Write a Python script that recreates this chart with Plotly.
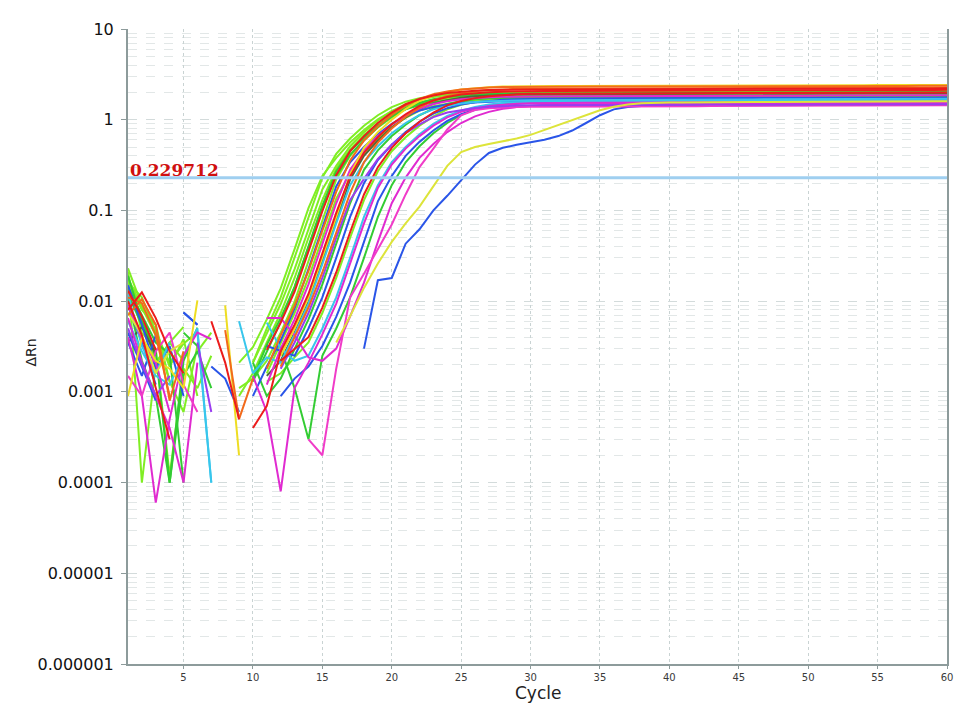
import math
import plotly.graph_objects as go

cycles = list(range(1, 61))
threshold = 0.229712
x_tick_vals = [5, 10, 15, 20, 25, 30, 35, 40, 45, 50, 55, 60]
y_tick_vals = [1e-6, 1e-5, 1e-4, 1e-3, 1e-2, 1e-1, 1, 10]
y_tick_text = ["0.000001", "0.00001", "0.0001", "0.001", "0.01", "0.1", "1", "10"]

well_01 = [0.018, 0.0085, 0.0042, 0.0013, None, 0.0028, 0.0045, None, None, 0.0021,
           0.005, 0.011, 0.03, 0.085, 0.23, 0.42, 0.62, 0.86, 1.12, 1.38,
           1.58, 1.73, 1.84, 1.91, 1.95, 1.98, 2.0, 2.01, 2.01, 2.02,
           2.02, 2.03, 2.03, 2.03, 2.04, 2.04, 2.04, 2.05, 2.05, 2.05,
           2.05, 2.06, 2.06, 2.06, 2.06, 2.07, 2.07, 2.07, 2.07, 2.08,
           2.08, 2.08, 2.08, 2.08, 2.09, 2.09, 2.09, 2.09, 2.1, 2.1]
well_02 = [0.021, 0.0001, 0.002, 0.0035, 0.0022, None, None, None, 0.0009, 0.0016,
           0.0035, 0.0074, 0.018, 0.05, 0.13, 0.29, 0.47, 0.68, 0.91, 1.15,
           1.37, 1.54, 1.65, 1.73, 1.79, 1.82, 1.84, 1.85, 1.85, 1.85,
           1.85, 1.86, 1.86, 1.86, 1.87, 1.87, 1.87, 1.87, 1.88, 1.88,
           1.88, 1.88, 1.89, 1.89, 1.89, 1.89, 1.89, 1.9, 1.9, 1.9,
           1.9, 1.9, 1.91, 1.91, 1.91, 1.91, 1.91, 1.92, 1.92, 1.92]
well_03 = [0.012, 0.0055, 0.0025, None, 0.0045, 0.0032, None, 0.0009, None, 0.0013,
           0.0028, 0.0059, 0.0144, 0.04, 0.112, 0.27, 0.45, 0.64, 0.86, 1.09,
           1.3, 1.45, 1.56, 1.64, 1.69, 1.72, 1.74, 1.75, 1.75, 1.76,
           1.76, 1.76, 1.77, 1.77, 1.77, 1.77, 1.78, 1.78, 1.78, 1.78,
           1.78, 1.79, 1.79, 1.79, 1.79, 1.79, 1.8, 1.8, 1.8, 1.8,
           1.8, 1.8, 1.81, 1.81, 1.81, 1.81, 1.81, 1.81, 1.82, 1.82]
well_04 = [0.013, 0.0068, 0.0029, None, 0.0011, None, 0.006, 0.0021, 0.0005, None,
           0.0029, 0.0058, 0.0127, 0.0345, 0.098, 0.246, 0.45, 0.66, 0.92, 1.2,
           1.48, 1.69, 1.85, 1.97, 2.04, 2.09, 2.12, 2.14, 2.14, 2.15,
           2.15, 2.16, 2.16, 2.16, 2.17, 2.17, 2.17, 2.17, 2.18, 2.18,
           2.18, 2.18, 2.19, 2.19, 2.19, 2.19, 2.19, 2.2, 2.2, 2.2,
           2.2, 2.2, 2.2, 2.21, 2.21, 2.21, 2.21, 2.21, 2.21, 2.22]
well_05 = [0.016, 0.011, 0.0045, 0.0021, 0.0034, 0.0046, None, None, 0.0011, 0.0014,
           0.0022, 0.0045, 0.0099, 0.027, 0.077, 0.22, 0.4, 0.59, 0.82, 1.06,
           1.31, 1.5, 1.64, 1.75, 1.81, 1.85, 1.88, 1.9, 1.9, 1.91,
           1.91, 1.91, 1.92, 1.92, 1.92, 1.93, 1.93, 1.93, 1.93, 1.94,
           1.94, 1.94, 1.94, 1.95, 1.95, 1.95, 1.95, 1.95, 1.96, 1.96,
           1.96, 1.96, 1.96, 1.97, 1.97, 1.97, 1.97, 1.97, 1.98, 1.98]
well_06 = [0.009, 0.0035, 0.0012, None, 0.0075, 0.0055, None, None, None, 0.0009,
           0.0019, 0.0037, 0.0083, 0.0225, 0.064, 0.184, 0.34, 0.5, 0.69, 0.9,
           1.1, 1.26, 1.38, 1.47, 1.53, 1.56, 1.58, 1.6, 1.6, 1.61,
           1.61, 1.61, 1.62, 1.62, 1.62, 1.62, 1.63, 1.63, 1.63, 1.63,
           1.63, 1.64, 1.64, 1.64, 1.64, 1.64, 1.65, 1.65, 1.65, 1.65,
           1.65, 1.65, 1.66, 1.66, 1.66, 1.66, 1.66, 1.66, 1.67, 1.67]
well_07 = [0.011, 0.0095, 0.0042, 0.0009, None, None, None, None, None, None,
           0.0018, 0.0042, 0.0089, 0.0216, 0.06, 0.16, 0.356, 0.59, 0.84, 1.13,
           1.43, 1.7, 1.91, 2.05, 2.15, 2.22, 2.27, 2.29, 2.3, 2.3,
           2.31, 2.31, 2.31, 2.32, 2.32, 2.32, 2.32, 2.33, 2.33, 2.33,
           2.33, 2.34, 2.34, 2.34, 2.34, 2.34, 2.35, 2.35, 2.35, 2.35,
           2.35, 2.36, 2.36, 2.36, 2.36, 2.36, 2.36, 2.37, 2.37, 2.37]
well_08 = [0.004, 0.0009, 0.00006, 0.0005, 0.0025, 0.0045, 0.0038, None, None, None,
           0.0012, 0.003, 0.0063, 0.0153, 0.0425, 0.12, 0.28, 0.46, 0.66, 0.88,
           1.12, 1.33, 1.49, 1.6, 1.68, 1.74, 1.77, 1.79, 1.8, 1.8,
           1.8, 1.81, 1.81, 1.81, 1.81, 1.82, 1.82, 1.82, 1.82, 1.82,
           1.83, 1.83, 1.83, 1.83, 1.83, 1.84, 1.84, 1.84, 1.84, 1.84,
           1.85, 1.85, 1.85, 1.85, 1.85, 1.85, 1.86, 1.86, 1.86, 1.86]
well_09 = [0.02, 0.0045, 0.003, 0.00012, 0.0018, 0.0011, 0.0025, None, None, None,
           0.0016, 0.0035, 0.0074, 0.018, 0.05, 0.135, 0.26, 0.43, 0.62, 0.83,
           1.05, 1.26, 1.41, 1.51, 1.59, 1.64, 1.67, 1.69, 1.7, 1.7,
           1.7, 1.71, 1.71, 1.71, 1.71, 1.72, 1.72, 1.72, 1.72, 1.72,
           1.73, 1.73, 1.73, 1.73, 1.73, 1.74, 1.74, 1.74, 1.74, 1.74,
           1.74, 1.75, 1.75, 1.75, 1.75, 1.75, 1.75, 1.76, 1.76, 1.76]
well_10 = [0.008, 0.0125, 0.0065, 0.0028, 0.0016, None, None, None, None, 0.0004,
           0.0007, 0.0028, 0.0055, 0.012, 0.033, 0.094, 0.237, 0.43, 0.64, 0.89,
           1.15, 1.42, 1.63, 1.78, 1.9, 1.97, 2.01, 2.04, 2.06, 2.06,
           2.07, 2.07, 2.08, 2.08, 2.08, 2.09, 2.09, 2.09, 2.09, 2.1,
           2.1, 2.1, 2.1, 2.11, 2.11, 2.11, 2.11, 2.11, 2.12, 2.12,
           2.12, 2.12, 2.12, 2.13, 2.13, 2.13, 2.13, 2.13, 2.13, 2.14]
well_11 = [0.006, 0.0028, 0.0015, 0.0012, 0.0025, 0.005, 0.0001, None, 0.006, 0.0016,
           0.0024, 0.0021, 0.0043, 0.0094, 0.0255, 0.072, 0.19, 0.34, 0.51, 0.71,
           0.92, 1.13, 1.3, 1.42, 1.51, 1.57, 1.6, 1.62, 1.63, 1.64,
           1.64, 1.64, 1.65, 1.65, 1.65, 1.65, 1.66, 1.66, 1.66, 1.66,
           1.66, 1.67, 1.67, 1.67, 1.67, 1.67, 1.68, 1.68, 1.68, 1.68,
           1.68, 1.68, 1.69, 1.69, 1.69, 1.69, 1.69, 1.69, 1.7, 1.7]
well_12 = [0.0009, 0.004, 0.0022, 0.0018, 0.0011, 0.0102, None, 0.009, 0.0002, None,
           None, 0.0025, 0.005, 0.011, 0.03, 0.085, 0.25, 0.49, 0.73, 1.0,
           1.31, 1.61, 1.85, 2.02, 2.15, 2.23, 2.28, 2.32, 2.34, 2.35,
           2.35, 2.36, 2.36, 2.36, 2.37, 2.37, 2.37, 2.37, 2.38, 2.38,
           2.38, 2.38, 2.38, 2.39, 2.39, 2.39, 2.39, 2.39, 2.4, 2.4,
           2.4, 2.4, 2.4, 2.4, 2.41, 2.41, 2.41, 2.41, 2.41, 2.41]
well_13 = [0.005, 0.002, 0.0009, 0.0015, None, 0.0035, 0.0006, None, None, None,
           None, 0.0018, 0.0035, 0.0074, 0.018, 0.05, 0.13, 0.223, 0.37, 0.53,
           0.71, 0.89, 1.07, 1.2, 1.28, 1.35, 1.39, 1.42, 1.43, 1.44,
           1.44, 1.44, 1.44, 1.45, 1.45, 1.45, 1.45, 1.45, 1.46, 1.46,
           1.46, 1.47, 1.48, 1.47, 1.46, 1.46, 1.46, 1.46, 1.47, 1.47,
           1.47, 1.47, 1.47, 1.47, 1.47, 1.48, 1.48, 1.48, 1.48, 1.48]
well_14 = [0.007, 0.0105, 0.0055, 0.0008, 0.0028, None, None, 0.0048, 0.0005, 0.0014,
           None, 0.0019, 0.004, 0.0085, 0.0207, 0.0575, 0.155, 0.34, 0.56, 0.8,
           1.08, 1.36, 1.63, 1.83, 1.96, 2.06, 2.12, 2.17, 2.19, 2.2,
           2.2, 2.21, 2.21, 2.21, 2.22, 2.22, 2.22, 2.22, 2.23, 2.23,
           2.23, 2.23, 2.24, 2.24, 2.24, 2.24, 2.24, 2.25, 2.25, 2.25,
           2.25, 2.25, 2.26, 2.26, 2.26, 2.26, 2.26, 2.26, 2.27, 2.27]
well_15 = [0.014, 0.007, 0.0035, 0.0026, 0.0001, None, None, None, None, 0.0021,
           0.0009, 0.0014, 0.003, 0.0063, 0.0153, 0.0425, 0.12, 0.28, 0.46, 0.66,
           0.88, 1.12, 1.33, 1.49, 1.6, 1.68, 1.74, 1.77, 1.79, 1.8,
           1.8, 1.8, 1.81, 1.81, 1.81, 1.81, 1.82, 1.82, 1.82, 1.82,
           1.82, 1.83, 1.83, 1.83, 1.83, 1.83, 1.83, 1.84, 1.84, 1.84,
           1.84, 1.84, 1.84, 1.85, 1.85, 1.85, 1.85, 1.85, 1.85, 1.86]
well_16 = [0.015, 0.0055, 0.0018, 0.0032, 0.0009, None, 0.0019, 0.0014, 0.0006, None,
           0.0032, 0.0028, 0.0025, 0.005, 0.011, 0.03, 0.085, 0.2, 0.36, 0.53,
           0.73, 0.95, 1.17, 1.34, 1.47, 1.56, 1.62, 1.66, 1.68, 1.7,
           1.7, 1.7, 1.71, 1.71, 1.71, 1.71, 1.72, 1.72, 1.72, 1.72,
           1.72, 1.72, 1.73, 1.73, 1.73, 1.73, 1.73, 1.74, 1.74, 1.74,
           1.74, 1.74, 1.74, 1.75, 1.75, 1.75, 1.75, 1.75, 1.75, 1.76]
well_17 = [0.0065, 0.0021, 0.0009, 0.0004, 0.0001, 0.0021, None, None, None, 0.0015,
           0.0006, 0.00008, 0.0011, 0.0021, 0.0043, 0.0094, 0.0255, 0.072, 0.177, 0.32,
           0.48, 0.66, 0.86, 1.06, 1.22, 1.33, 1.42, 1.47, 1.5, 1.52,
           1.53, 1.53, 1.54, 1.54, 1.54, 1.54, 1.55, 1.55, 1.55, 1.55,
           1.55, 1.55, 1.56, 1.56, 1.56, 1.56, 1.56, 1.56, 1.57, 1.57,
           1.57, 1.57, 1.57, 1.57, 1.58, 1.58, 1.58, 1.58, 1.58, 1.58]
well_18 = [0.023, 0.009, 0.0048, 0.0019, 0.0038, 0.0009, None, None, None, None,
           0.0013, 0.0016, 0.0024, 0.0035, 0.0074, 0.018, 0.05, 0.13, 0.27, 0.45,
           0.64, 0.86, 1.09, 1.3, 1.46, 1.57, 1.65, 1.7, 1.73, 1.75,
           1.76, 1.76, 1.76, 1.77, 1.77, 1.77, 1.77, 1.78, 1.78, 1.78,
           1.78, 1.78, 1.79, 1.79, 1.79, 1.79, 1.79, 1.8, 1.8, 1.8,
           1.8, 1.8, 1.8, 1.81, 1.81, 1.81, 1.81, 1.81, 1.81, 1.82]
well_19 = [0.01, 0.0042, 0.0011, 0.0003, None, None, None, None, None, None,
           None, 0.0022, 0.003, 0.004, 0.0085, 0.0207, 0.0575, 0.15, 0.3, 0.49,
           0.71, 0.95, 1.2, 1.44, 1.61, 1.73, 1.81, 1.87, 1.91, 1.93,
           1.94, 1.94, 1.95, 1.95, 1.95, 1.95, 1.96, 1.96, 1.96, 1.96,
           1.96, 1.97, 1.97, 1.97, 1.97, 1.97, 1.97, 1.98, 1.98, 1.98,
           1.98, 1.98, 1.98, 1.99, 1.99, 1.99, 1.99, 1.99, 1.99, 2.0]
well_20 = [0.012, 0.0032, 0.0016, 0.0035, None, 0.0045, 0.0001, None, None, None,
           0.0058, 0.003, 0.0022, 0.0025, 0.005, 0.011, 0.03, 0.085, 0.19, 0.34,
           0.5, 0.69, 0.9, 1.1, 1.26, 1.38, 1.47, 1.53, 1.56, 1.58,
           1.59, 1.59, 1.6, 1.6, 1.6, 1.6, 1.61, 1.61, 1.61, 1.61,
           1.61, 1.62, 1.62, 1.62, 1.62, 1.62, 1.62, 1.63, 1.63, 1.63,
           1.63, 1.63, 1.63, 1.63, 1.64, 1.64, 1.64, 1.64, 1.64, 1.64]
well_21 = [0.0035, 0.0052, 0.0026, None, None, 0.0012, None, None, None, None,
           0.0015, 0.0022, 0.0045, 0.0099, 0.027, 0.077, 0.22, 0.4, 0.59, 0.82,
           1.06, 1.31, 1.5, 1.64, 1.75, 1.81, 1.85, 1.88, 1.9, 1.9,
           1.91, 1.91, 1.91, 1.92, 1.92, 1.92, 1.92, 1.93, 1.93, 1.93,
           1.93, 1.93, 1.94, 1.94, 1.94, 1.94, 1.94, 1.95, 1.95, 1.95,
           1.95, 1.95, 1.95, 1.96, 1.96, 1.96, 1.96, 1.96, 1.96, 1.97]
well_22 = [0.0035, 0.0015, 0.0042, None, 0.0075, 0.0055, None, None, None, None,
           None, 0.0009, 0.0014, 0.0019, 0.0032, 0.0067, 0.016, 0.045, 0.126, 0.24,
           0.4, 0.57, 0.76, 0.97, 1.15, 1.29, 1.39, 1.46, 1.51, 1.54,
           1.55, 1.56, 1.56, 1.56, 1.57, 1.57, 1.57, 1.57, 1.58, 1.58,
           1.58, 1.58, 1.58, 1.59, 1.59, 1.59, 1.59, 1.59, 1.59, 1.6,
           1.6, 1.6, 1.6, 1.6, 1.6, 1.61, 1.61, 1.61, 1.61, 1.61]
well_23 = [0.019, 0.006, 0.0028, 0.0001, 0.0022, 0.0051, None, None, None, None,
           None, 0.003, 0.0011, 0.0003, 0.0025, 0.005, 0.011, 0.03, 0.085, 0.19,
           0.34, 0.51, 0.71, 0.92, 1.13, 1.3, 1.42, 1.51, 1.57, 1.6,
           1.62, 1.63, 1.63, 1.64, 1.64, 1.64, 1.64, 1.65, 1.65, 1.65,
           1.65, 1.65, 1.66, 1.66, 1.66, 1.66, 1.66, 1.66, 1.67, 1.67,
           1.67, 1.67, 1.67, 1.67, 1.68, 1.68, 1.68, 1.68, 1.68, 1.68]
well_24 = [0.009, 0.0038, 0.0021, 0.0006, None, None, None, None, None, None,
           0.0065, 0.0065, 0.0042, 0.0024, 0.0022, 0.003, 0.0068, 0.016, 0.045, 0.12,
           0.23, 0.38, 0.54, 0.73, 0.92, 1.09, 1.22, 1.32, 1.38, 1.43,
           1.46, 1.47, 1.48, 1.48, 1.48, 1.49, 1.49, 1.49, 1.49, 1.49,
           1.5, 1.5, 1.5, 1.5, 1.5, 1.5, 1.51, 1.51, 1.51, 1.51,
           1.51, 1.51, 1.52, 1.52, 1.52, 1.52, 1.52, 1.52, 1.52, 1.53]
well_25 = [0.0015, 0.0009, 0.0028, 0.0045, 0.0012, 0.0006, None, None, None, None,
           None, None, None, 0.0003, 0.0002, 0.0018, 0.011, 0.02, 0.038, 0.07,
           0.15, 0.3, 0.48, 0.78, 1.12, 1.28, 1.34, 1.37, 1.38, 1.39,
           1.39, 1.4, 1.4, 1.4, 1.4, 1.4, 1.41, 1.41, 1.41, 1.41,
           1.41, 1.41, 1.42, 1.42, 1.42, 1.42, 1.42, 1.42, 1.42, 1.43,
           1.43, 1.43, 1.43, 1.43, 1.43, 1.43, 1.44, 1.44, 1.44, 1.44]
well_26 = [0.0075, 0.0042, 0.0016, 0.0028, 0.0035, None, None, None, None, None,
           None, None, None, None, None, 0.0035, 0.0068, 0.014, 0.026, 0.045,
           0.072, 0.11, 0.185, 0.31, 0.44, 0.5, 0.54, 0.58, 0.62, 0.68,
           0.77, 0.88, 0.99, 1.12, 1.27, 1.39, 1.47, 1.52, 1.54, 1.55,
           1.55, 1.56, 1.56, 1.56, 1.57, 1.57, 1.57, 1.57, 1.58, 1.58,
           1.58, 1.58, 1.58, 1.59, 1.59, 1.59, 1.59, 1.59, 1.6, 1.6]
well_27 = [0.0045, 0.0019, 0.0008, None, None, None, None, None, None, None,
           None, None, None, None, None, None, None, 0.003, 0.017, 0.018,
           0.043, 0.062, 0.1, 0.145, 0.215, 0.32, 0.43, 0.49, 0.53, 0.56,
           0.6, 0.66, 0.76, 0.92, 1.12, 1.3, 1.38, 1.42, 1.43, 1.43,
           1.44, 1.44, 1.44, 1.44, 1.45, 1.45, 1.45, 1.45, 1.45, 1.46,
           1.46, 1.46, 1.46, 1.46, 1.46, 1.47, 1.47, 1.47, 1.47, 1.47]
well_28 = [0.015, 0.0068, 0.0021, 0.0035, 0.0052, None, None, None, 0.0021, 0.0031,
           0.0063, 0.0138, 0.0375, 0.106, 0.24, 0.38, 0.56, 0.77, 1.01, 1.24,
           1.42, 1.56, 1.66, 1.72, 1.76, 1.78, 1.8, 1.8, 1.81, 1.81,
           1.81, 1.82, 1.82, 1.82, 1.82, 1.83, 1.83, 1.83, 1.83, 1.83,
           1.84, 1.84, 1.84, 1.84, 1.84, 1.85, 1.85, 1.85, 1.85, 1.85,
           1.85, 1.86, 1.86, 1.86, 1.86, 1.86, 1.86, 1.87, 1.87, 1.87]
well_29 = [0.017, 0.008, 0.0055, 0.0013, 0.0006, 0.0032, None, None, None, 0.0021,
           0.0044, 0.0093, 0.0225, 0.0625, 0.17, 0.31, 0.51, 0.73, 0.98, 1.24,
           1.48, 1.66, 1.78, 1.87, 1.93, 1.97, 1.99, 2.0, 2.0, 2.01,
           2.01, 2.01, 2.02, 2.02, 2.02, 2.02, 2.03, 2.03, 2.03, 2.03,
           2.04, 2.04, 2.04, 2.04, 2.04, 2.05, 2.05, 2.05, 2.05, 2.05,
           2.06, 2.06, 2.06, 2.06, 2.06, 2.06, 2.07, 2.07, 2.07, 2.07]
well_30 = [0.011, 0.0022, 0.0009, 0.0001, 0.0015, 0.0028, 0.0011, None, None, 0.0014,
           0.0033, 0.0065, 0.0143, 0.039, 0.11, 0.24, 0.41, 0.6, 0.83, 1.09,
           1.34, 1.53, 1.68, 1.78, 1.85, 1.89, 1.92, 1.94, 1.94, 1.95,
           1.95, 1.95, 1.96, 1.96, 1.96, 1.96, 1.97, 1.97, 1.97, 1.97,
           1.97, 1.98, 1.98, 1.98, 1.98, 1.98, 1.98, 1.99, 1.99, 1.99,
           1.99, 1.99, 1.99, 2.0, 2.0, 2.0, 2.0, 2.0, 2.0, 2.01]

LIME, GREEN, RED, ORANGE = "#80ee24", "#33cc33", "#ec1c1c", "#f26a1c"
YELLOW, BLUE, MAGENTA, PURPLE = "#eedd22", "#2a55e8", "#e02ad0", "#9a3cf0"
CYAN, DARK, PINK, YELLOWGREEN = "#38c6ec", "#4f6a3c", "#f03cc8", "#dde43a"

wells = [
    (well_01, LIME), (well_02, LIME), (well_28, LIME), (well_29, LIME),
    (well_05, LIME), (well_09, LIME), (well_18, LIME), (well_03, GREEN),
    (well_15, GREEN), (well_23, GREEN), (well_30, GREEN), (well_21, DARK),
    (well_06, BLUE), (well_16, BLUE), (well_22, BLUE), (well_27, BLUE),
    (well_11, CYAN), (well_20, CYAN), (well_08, MAGENTA), (well_17, MAGENTA),
    (well_24, MAGENTA), (well_25, PINK), (well_13, PURPLE), (well_26, YELLOWGREEN),
    (well_12, YELLOW), (well_07, ORANGE), (well_14, ORANGE), (well_04, RED),
    (well_10, RED), (well_19, RED),
]

fig = go.Figure()
for vals, col in wells:
    assert len(vals) == len(cycles)
    fig.add_trace(go.Scatter(x=cycles, y=vals, mode="lines",
                             line=dict(color=col, width=2),
                             connectgaps=False, showlegend=False,
                             hoverinfo="skip"))

fig.add_trace(go.Scatter(x=[cycles[0], cycles[-1]], y=[threshold, threshold],
                         mode="lines", line=dict(color="#9fcff0", width=3),
                         showlegend=False, hoverinfo="skip"))

minor_vals = [m * 10.0 ** e for e in range(-6, 1) for m in range(2, 10)]
axis_col = "#8d9b9b"

# the page body adds an 8px offset, so the figure is sized to fit the window
fig.update_layout(
    width=965, height=705,
    margin=dict(l=120, r=26, t=21, b=49),
    paper_bgcolor="white", plot_bgcolor="white",
    showlegend=False,
    xaxis=dict(range=[1, 60], tickmode="array", tickvals=x_tick_vals,
               showgrid=True, gridcolor="#c9d3d3", griddash="dot", gridwidth=1,
               showline=True, linecolor=axis_col, linewidth=2,
               ticks="outside", ticklen=3, tickcolor=axis_col,
               tickfont=dict(family="DejaVu Sans", size=10, color="#3a3a3a"),
               zeroline=False),
    yaxis=dict(type="log", range=[-6, 1], tickmode="array",
               tickvals=y_tick_vals, ticktext=y_tick_text,
               showgrid=True, gridcolor="#d3dbdb", griddash="dash", gridwidth=1,
               showline=True, mirror=True, linecolor=axis_col, linewidth=2,
               ticks="outside", ticklen=5, tickcolor=axis_col,
               ticklabelstandoff=4,
               tickfont=dict(family="DejaVu Sans", size=16, color="#111111"),
               minor=dict(tickmode="array", tickvals=minor_vals, showgrid=True,
                          gridcolor="#e2e7e7", griddash="dash", ticks=""),
               zeroline=False),
    annotations=[
        dict(text="<b>0.229712</b>", x=cycles[0], y=math.log10(threshold),
             xref="x", yref="y", xanchor="left", yanchor="bottom", yshift=-4,
             showarrow=False,
             font=dict(family="DejaVu Serif", size=17, color="#d01010")),
        dict(text="ΔRn", x=0, y=0.5, xref="paper", yref="paper",
             xanchor="center", yanchor="middle", xshift=-98, yshift=-6,
             textangle=-90, showarrow=False,
             font=dict(family="DejaVu Sans", size=14, color="#222222")),
        dict(text="Cycle", x=0.5, y=0, xref="paper", yref="paper",
             xanchor="center", yanchor="middle", yshift=-29,
             showarrow=False,
             font=dict(family="DejaVu Sans", size=17, color="#222222")),
    ],
)

fig.write_html("out.html")
